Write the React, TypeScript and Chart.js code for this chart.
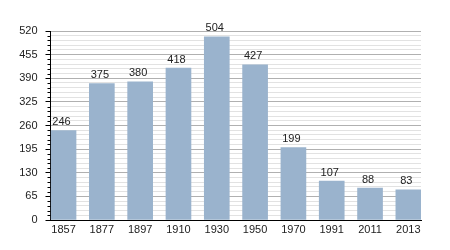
import React, { useEffect, useRef } from "react";
import { Chart, registerables } from "chart.js";

Chart.register(...registerables);

const years = ["1857", "1877", "1897", "1910", "1930", "1950", "1970", "1991", "2011", "2013"];
const population = [246, 375, 380, 418, 504, 427, 199, 107, 88, 83];
const yMax = 520;
const majorStep = 65;
const minorStep = 13;

const FONT = "'Liberation Sans', Arial, sans-serif";

const valueLabels = {
  id: "valueLabels",
  afterDatasetsDraw(chart: any) {
    const ctx = chart.ctx;
    const meta = chart.getDatasetMeta(0);
    ctx.save();
    ctx.font = `11px ${FONT}`;
    ctx.fillStyle = "#222";
    ctx.textAlign = "center";
    ctx.textBaseline = "bottom";
    meta.data.forEach((el: any, i: number) => {
      ctx.fillText(String(population[i]), el.x - 2, el.y - 3);
    });
    ctx.restore();
  },
};

const minorTicks = {
  id: "minorTicks",
  afterDraw(chart: any) {
    const y = chart.scales.y;
    const ctx = chart.ctx;
    const left = chart.chartArea.left;
    ctx.save();
    ctx.strokeStyle = "#000";
    ctx.lineWidth = 1;
    for (let v = 0; v <= yMax; v += minorStep) {
      if (v % majorStep === 0) continue;
      const py = Math.round(y.getPixelForValue(v)) + 0.5;
      ctx.beginPath();
      ctx.moveTo(left - 3, py);
      ctx.lineTo(left, py);
      ctx.stroke();
    }
    ctx.restore();
  },
};

export default function App() {
  const ref = useRef<HTMLCanvasElement>(null);
  useEffect(() => {
    document.body.style.margin = "0";
    const chart = new Chart(ref.current!, {
      type: "bar",
      data: {
        datasets: [
          {
            data: population.map((v, i) => ({ x: i, y: v })),
            backgroundColor: "#9ab3cd",
            barThickness: 25,
          },
        ],
      },
      options: {
        animation: false,
        responsive: false,
        layout: { padding: { top: 31, right: 29, left: 0, bottom: 0 } },
        plugins: { legend: { display: false }, tooltip: { enabled: false } },
        scales: {
          x: {
            type: "linear",
            offset: false,
            min: -0.34,
            max: 9.33,
            grid: { display: false, drawTicks: false, tickLength: 0 },
            border: { display: true, color: "#000" },
            ticks: {
              stepSize: 1,
              includeBounds: false,
              autoSkip: false,
              maxRotation: 0,
              padding: 3,
              color: "#222",
              font: { family: FONT, size: 11 },
              callback: (v: any) => (Number.isInteger(v) ? years[v] ?? "" : ""),
            },
            afterFit: (s: any) => {
              s.height = 30;
            },
          },
          y: {
            min: 0,
            max: yMax,
            grid: {
              color: (c: any) => (c.tick && c.tick.value % majorStep === 0 ? "#b0b0b0" : "#e2e2e2"),
              tickColor: (c: any) => (c.tick && c.tick.value % majorStep === 0 ? "#000" : "rgba(0,0,0,0)"),
              tickLength: 5,
            },
            border: { display: true, color: "#000" },
            ticks: {
              stepSize: minorStep,
              autoSkip: false,
              padding: 8,
              color: "#222",
              font: { family: FONT, size: 11 },
              callback: (v: any) => (v % majorStep === 0 ? String(v) : ""),
            },
            afterFit: (s: any) => {
              s.width = 50.5;
            },
          },
        },
      },
      plugins: [valueLabels, minorTicks],
    });
    return () => chart.destroy();
  }, []);
  return (
    <div style={{ width: 450, height: 250, background: "#fff" }}>
      <canvas ref={ref} width={450} height={250} />
    </div>
  );
}
